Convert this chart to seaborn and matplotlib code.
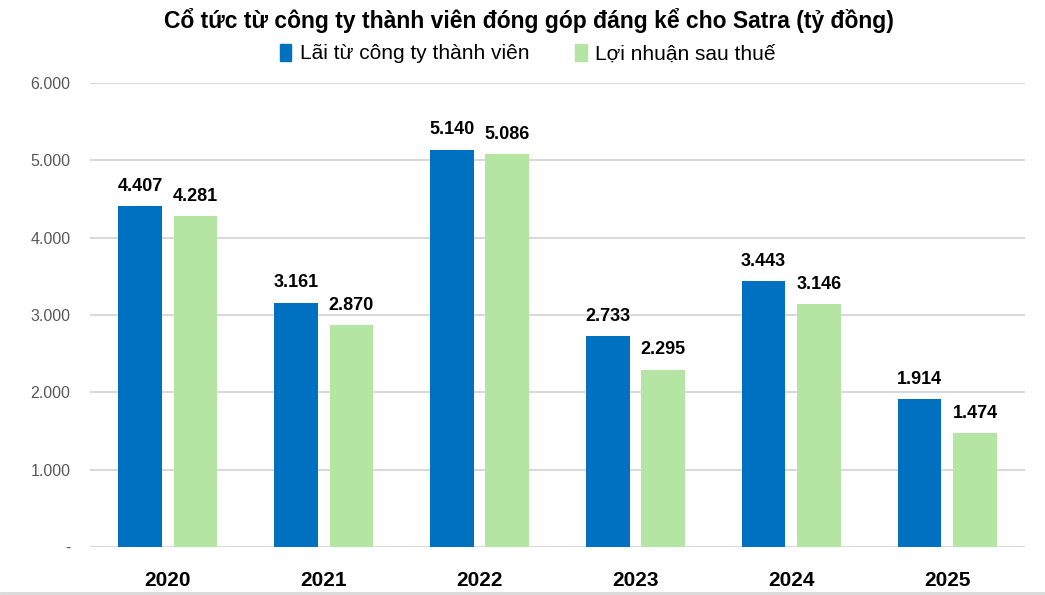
import matplotlib.pyplot as plt
import matplotlib.ticker as mticker
import seaborn as sns
import pandas as pd

years = ["2020", "2021", "2022", "2023", "2024", "2025"]
lai_cong_ty = [4407, 3161, 5140, 2733, 3443, 1914]
loi_nhuan = [4281, 2870, 5086, 2295, 3146, 1474]
series_names = ["Lãi từ công ty thành viên", "Lợi nhuận sau thuế"]
y_ticks = [0, 1000, 2000, 3000, 4000, 5000, 6000]

df = pd.DataFrame({
    "year": years * 2,
    "value": lai_cong_ty + loi_nhuan,
    "series": [series_names[0]] * len(years) + [series_names[1]] * len(years),
})


def vn_fmt(v, pos=None):
    if v == 0:
        return "-"
    return f"{v:,.0f}".replace(",", ".")


sns.set_theme(style="white")
plt.rcParams["font.family"] = ["Liberation Sans", "DejaVu Sans"]
plt.rcParams["text.color"] = "black"

fig = plt.figure(figsize=(10.45, 5.95), dpi=100)
ax = fig.add_axes([0.086, 0.0807, 0.895, 0.7798])

sns.barplot(
    data=df, x="year", y="value", hue="series",
    palette=["#0070C0", "#B4E5A2"], width=0.712, gap=0.21,
    saturation=1, ax=ax, legend=False, linewidth=0,
)

for container in ax.containers:
    labels = [vn_fmt(b.get_height()) for b in container]
    ax.bar_label(container, labels=labels, padding=8,
                 fontsize=13, fontweight="bold", color="black")

ax.set_ylim(0, 6000)
ax.set_xlim(-0.5, 5.5)
ax.set_yticks(y_ticks)
ax.yaxis.set_major_formatter(mticker.FuncFormatter(vn_fmt))
ax.grid(axis="y", color="#D9D9D9", linewidth=1.5)
ax.set_axisbelow(True)
for s in ax.spines.values():
    s.set_visible(False)
ax.tick_params(axis="y", labelsize=11.5, colors="#595959", length=0, pad=14)
ax.tick_params(axis="x", labelsize=15, colors="black", length=0, pad=17)
for t in ax.get_xticklabels():
    t.set_fontweight("bold")
ax.set_xlabel("")
ax.set_ylabel("")

fig.text(0.506, 0.965, "Cổ tức từ công ty thành viên đóng góp đáng kể cho Satra (tỷ đồng)",
         ha="center", va="center", fontsize=16.5, fontweight="bold", color="black")

handles = [plt.Rectangle((0, 0), 1, 1, color=c) for c in ["#0070C0", "#B4E5A2"]]
fig.legend(handles, series_names, loc="center", bbox_to_anchor=(0.505, 0.91),
           ncol=2, frameon=False, prop={"size": 15}, labelcolor="black",
           handlelength=0.55, handleheight=0.9, handletextpad=0.4, columnspacing=2.2)

fig.add_artist(plt.Line2D([0, 1], [0.004, 0.004], color="#D9D9D9", linewidth=2,
                          transform=fig.transFigure))

fig.savefig("out.png", dpi=100)
